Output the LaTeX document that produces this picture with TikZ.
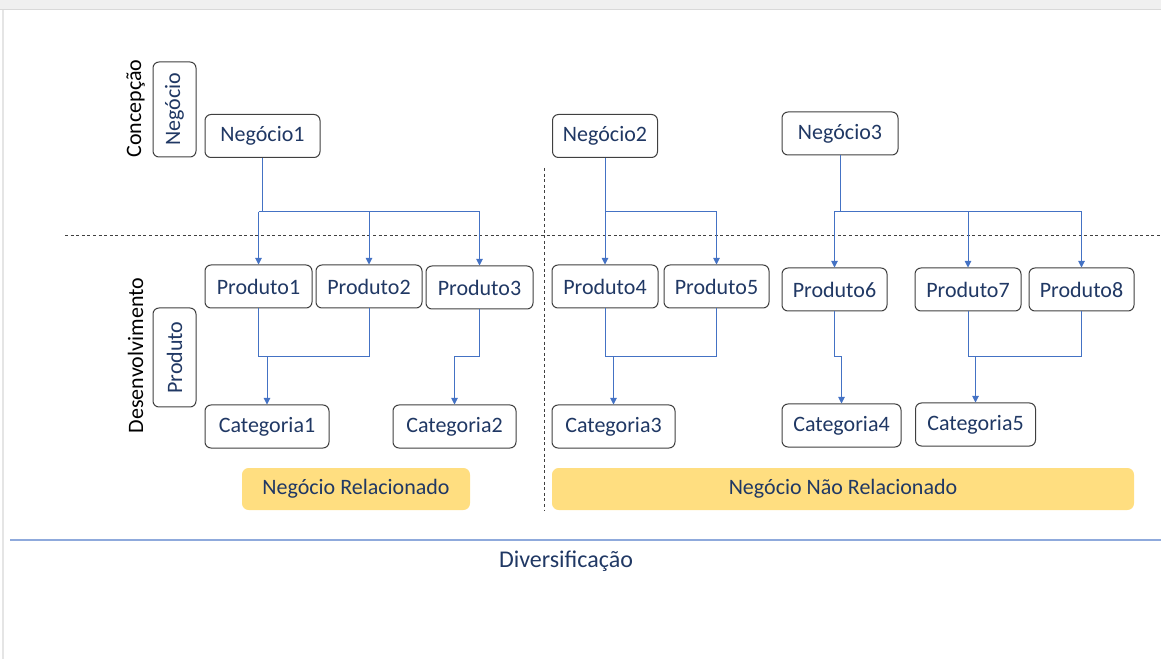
\documentclass[tikz,border=0pt]{standalone}
\usepackage{fontspec}
\setmainfont{Carlito}
\usetikzlibrary{arrows.meta}

\definecolor{navy}{HTML}{203864}
\definecolor{linkblue}{HTML}{4472C4}
\definecolor{boxgray}{HTML}{404040}
\definecolor{bandyellow}{HTML}{FFDE80}
\definecolor{axisblue}{HTML}{8FAADC}

\begin{document}
\begin{tikzpicture}[x=0.75pt,y=-0.75pt,
    every node/.style={font=\fontsize{16.5}{20}\selectfont},
    box/.style={draw=boxgray,line width=0.75pt,rounded corners=4.5pt,fill=white,
      text=navy,minimum height=32.25pt,inner sep=0pt},
    vbox/.style={box,rotate=90},
    band/.style={fill=bandyellow,rounded corners=5pt,text=navy,
      minimum height=31.5pt,inner sep=0pt},
    side/.style={rotate=90,text=black,inner sep=0pt},
    link/.style={draw=linkblue,line width=0.75pt},
    arr/.style={link,-{Triangle[length=5pt,width=5pt]}},
    sep/.style={draw=black!75,dash pattern=on 2.2pt off 2pt,line width=0.6pt}]
  \useasboundingbox (0,0) rectangle (1161,659);
  % window frame
  \fill[black!6] (0,0) rectangle (1161,9);
  \draw[black!15] (0,9.5) -- (1161,9.5);
  \draw[black!10,line width=2pt] (3,10) -- (3,659);

  % separators
  \coordinate (hl) at (65,235);
  \coordinate (hr) at (1161,235);
  \coordinate (vt) at (544,168);
  \coordinate (vb) at (544,510);
  \draw[sep] (hl) -- (hr);
  \draw[sep] (vt) -- (vb);

  % side labels
  \node[side] (conc) at (135.5,108.5) {Concepção};
  \node[side] (desenv) at (135.5,355.5) {Desenvolvimento};
  \node[vbox,minimum width=71.25pt] (lblneg) at (174.5,109.5) {Negócio};
  \node[vbox,minimum width=74.25pt] (lblprod) at (174.5,357.5) {Produto};

  % businesses
  \node[box,minimum width=86.25pt] (neg1) at (262.5,136) {Negócio1};
  \node[box,minimum width=78.75pt] (neg2) at (605,136) {Negócio2};
  \node[box,minimum width=87pt] (neg3) at (840,133.5) {Negócio3};

  % products
  \node[box,minimum width=80.25pt] (prod1) at (258.5,286.5) {Produto1};
  \node[box,minimum width=79.5pt] (prod2) at (369,286.5) {Produto2};
  \node[box,minimum width=80.25pt] (prod3) at (479.5,287.5) {Produto3};
  \node[box,minimum width=79.5pt] (prod4) at (605,286.5) {Produto4};
  \node[box,minimum width=78.75pt] (prod5) at (716.5,286.5) {Produto5};
  \node[box,minimum width=78.75pt] (prod6) at (834.5,289.5) {Produto6};
  \node[box,minimum width=79.5pt] (prod7) at (968,289.5) {Produto7};
  \node[box,minimum width=78.75pt] (prod8) at (1081.5,289.5) {Produto8};

  % categories
  \node[box,minimum width=93pt] (cat1) at (267,426.5) {Categoria1};
  \node[box,minimum width=92.25pt] (cat2) at (454.5,426.5) {Categoria2};
  \node[box,minimum width=92.25pt] (cat3) at (613.5,426.5) {Categoria3};
  \node[box,minimum width=89.25pt] (cat4) at (841.5,425.5) {Categoria4};
  \node[box,minimum width=90pt] (cat5) at (975.5,424.5) {Categoria5};

  % bands
  \node[band,minimum width=171pt] (relac) at (356,489) {Negócio Relacionado};
  \node[band,minimum width=436.5pt] (naorel) at (843,489) {Negócio Não Relacionado};

  % business -> products
  \draw[link] (neg1.south) -- ++(0,54) coordinate (bus1);
  \draw[link] (bus1 -| prod1.north) -- (bus1 -| prod3.north);
  \foreach \p in {prod1,prod2,prod3}
    \draw[arr] (bus1 -| \p.north) -- (\p.north);
  \draw[link] (neg2.south) -- ++(0,54) coordinate (bus2);
  \draw[link] (bus2 -| prod4.north) -- (bus2 -| prod5.north);
  \foreach \p in {prod4,prod5}
    \draw[arr] (bus2 -| \p.north) -- (\p.north);
  \draw[link] (neg3.south) -- ++(0,56) coordinate (bus3);
  \draw[link] (bus3 -| prod6.north) -- (bus3 -| prod8.north);
  \foreach \p in {prod6,prod7,prod8}
    \draw[arr] (bus3 -| \p.north) -- (\p.north);

  % products -> categories
  \draw[link] (prod1.south) -- ++(0,48) coordinate (j1) -- (j1 -| prod2.south) -- (prod2.south);
  \draw[arr] (j1 -| cat1.north) -- (cat1.north);
  \draw[arr] (prod3.south) -- ++(0,47) -| (cat2.north);
  \draw[link] (prod4.south) -- ++(0,48) coordinate (j3) -- (j3 -| prod5.south) -- (prod5.south);
  \draw[arr] (j3 -| cat3.north) -- (cat3.north);
  \draw[arr] (prod6.south) -- ++(0,45) -| (cat4.north);
  \draw[link] (prod7.south) -- ++(0,45) coordinate (j5) -- (j5 -| prod8.south) -- (prod8.south);
  \draw[arr] (j5 -| cat5.north) -- (cat5.north);

  % axis
  \coordinate (axl) at (10,540);
  \coordinate (axr) at (1161,540);
  \draw[axisblue,line width=1.2pt] (axl) -- (axr);
  \node[text=navy,font=\fontsize{18}{22}\selectfont] (axis) at (566,561) {Diversificação};
\end{tikzpicture}
\end{document}
